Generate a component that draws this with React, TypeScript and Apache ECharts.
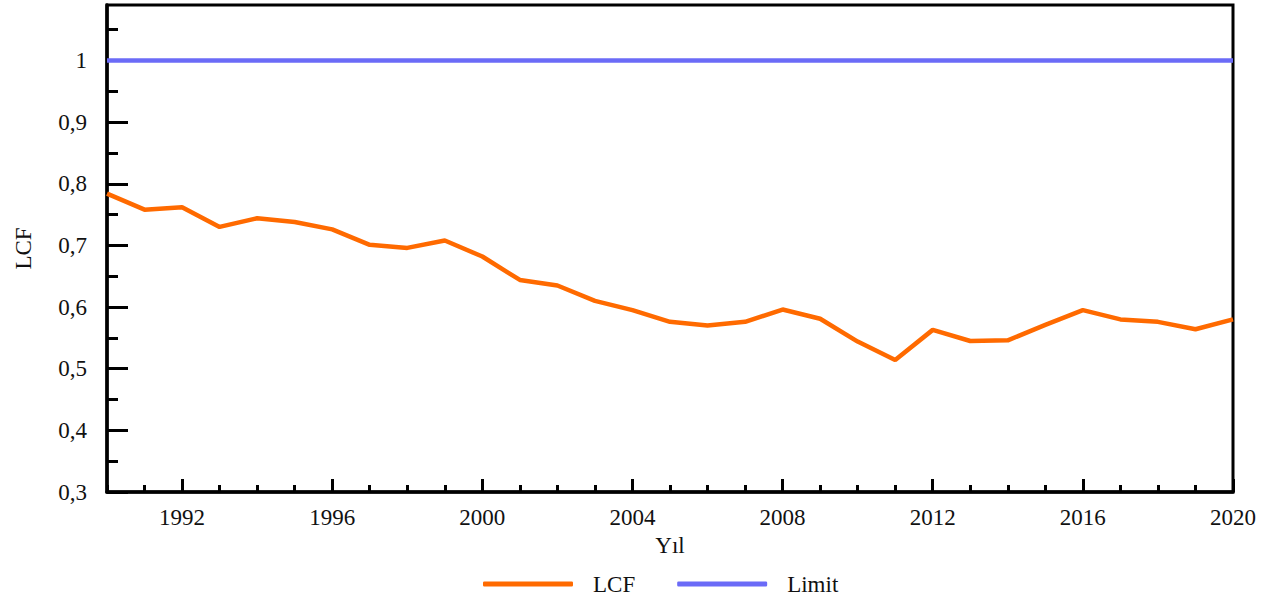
import React, { useEffect, useRef } from "react";
import * as echarts from "echarts";

const years: number[] = [
  1990, 1991, 1992, 1993, 1994, 1995, 1996, 1997, 1998, 1999,
  2000, 2001, 2002, 2003, 2004, 2005, 2006, 2007, 2008, 2009,
  2010, 2011, 2012, 2013, 2014, 2015, 2016, 2017, 2018, 2019, 2020,
];
const lcf: number[] = [
  0.784, 0.758, 0.762, 0.730, 0.744, 0.738, 0.726, 0.701, 0.696, 0.708,
  0.682, 0.644, 0.635, 0.610, 0.595, 0.576, 0.570, 0.576, 0.596, 0.581,
  0.544, 0.514, 0.563, 0.545, 0.546, 0.571, 0.595, 0.580, 0.576, 0.564, 0.580,
];
const limitYears: number[] = [1990, 2020];
const limitValues: number[] = [1, 1];
const xMajorTicks: number[] = [1992, 1996, 2000, 2004, 2008, 2012, 2016, 2020];
const yMajorTicks: number[] = [0.3, 0.4, 0.5, 0.6, 0.7, 0.8, 0.9, 1.0];
const yMinorTicks: number[] = [0.35, 0.45, 0.55, 0.65, 0.75, 0.85, 0.95, 1.05];

const FONT = "'Liberation Serif', 'Times New Roman', serif";
const FS = 23;

export default function App() {
  const ref = useRef<HTMLDivElement>(null);
  useEffect(() => {
    if (!ref.current) return;
    const chart = echarts.init(ref.current, null, { renderer: "svg" });
    const xMinor = years.filter((y) => !xMajorTicks.includes(y));
    const fmtY = (v: number) => (Math.abs(v - 1) < 1e-9 ? "1" : v.toFixed(1).replace(".", ","));
    chart.setOption({
      animation: false,
      backgroundColor: "#ffffff",
      grid: {
        left: 107,
        right: 42,
        top: 5,
        bottom: 107,
        show: true,
        borderColor: "#000",
        borderWidth: 3,
        backgroundColor: "transparent",
      },
      legend: {
        left: 478,
        top: 567,
        itemWidth: 90,
        itemHeight: 5,
        itemGap: 42,
        icon: "roundRect",
        textStyle: {
          fontFamily: FONT,
          fontSize: FS,
          lineHeight: 24,
          color: "#111",
          padding: [0, 0, 0, 15],
        },
        data: [
          { name: "LCF", icon: "roundRect", itemStyle: { color: "#ff6a00" } },
          { name: "Limit", icon: "roundRect", itemStyle: { color: "#6b6bf7" } },
        ],
      },
      xAxis: [
        {
          type: "value",
          min: 1990,
          max: 2020,
          name: "Yıl",
          nameLocation: "middle",
          nameGap: 36,
          nameTextStyle: { fontFamily: FONT, fontSize: FS, color: "#111" },
          splitLine: { show: false },
          axisLine: { show: true, lineStyle: { color: "#000", width: 3.5 } },
          axisTick: {
            show: true,
            inside: true,
            length: 13,
            customValues: xMajorTicks,
            lineStyle: { color: "#000", width: 3 },
          },
          axisLabel: {
            customValues: xMajorTicks,
            formatter: (v: number) => String(v),
            margin: 14,
            fontFamily: FONT,
            fontSize: FS,
            color: "#111",
          },
        },
        {
          type: "value",
          min: 1990,
          max: 2020,
          position: "bottom",
          splitLine: { show: false },
          axisLine: { show: false },
          axisLabel: { show: false },
          axisTick: {
            show: true,
            inside: true,
            length: 7,
            customValues: xMinor,
            lineStyle: { color: "#000", width: 3 },
          },
        },
      ],
      yAxis: [
        {
          type: "value",
          min: 0.3,
          max: 1.09,
          name: "LCF",
          nameLocation: "middle",
          nameGap: 72,
          nameTextStyle: { fontFamily: FONT, fontSize: FS, color: "#111" },
          splitLine: { show: false },
          axisLine: { show: true, lineStyle: { color: "#000", width: 3.5 } },
          axisTick: {
            show: true,
            inside: true,
            length: 21,
            customValues: yMajorTicks,
            lineStyle: { color: "#000", width: 3 },
          },
          axisLabel: {
            customValues: yMajorTicks,
            formatter: fmtY,
            margin: 20,
            fontFamily: FONT,
            fontSize: FS,
            color: "#111",
          },
        },
        {
          type: "value",
          min: 0.3,
          max: 1.09,
          position: "left",
          splitLine: { show: false },
          axisLine: { show: false },
          axisLabel: { show: false },
          axisTick: {
            show: true,
            inside: true,
            length: 11,
            customValues: yMinorTicks,
            lineStyle: { color: "#000", width: 3 },
          },
        },
      ],
      series: [
        {
          name: "LCF",
          type: "line",
          xAxisIndex: 0,
          yAxisIndex: 0,
          data: years.map((y, i) => [y, lcf[i]]),
          showSymbol: false,
          symbol: "none",
          lineStyle: { color: "#ff6a00", width: 4.5 },
          itemStyle: { color: "#ff6a00" },
        },
        {
          name: "Limit",
          type: "line",
          xAxisIndex: 0,
          yAxisIndex: 0,
          data: limitYears.map((y, i) => [y, limitValues[i]]),
          showSymbol: false,
          symbol: "none",
          lineStyle: { color: "#6b6bf7", width: 4.5 },
          itemStyle: { color: "#6b6bf7" },
        },
      ],
    });
    return () => chart.dispose();
  }, []);
  return (
    <div
      ref={ref}
      style={{ position: "fixed", left: 0, top: 0, width: 1275, height: 599 }}
    />
  );
}
